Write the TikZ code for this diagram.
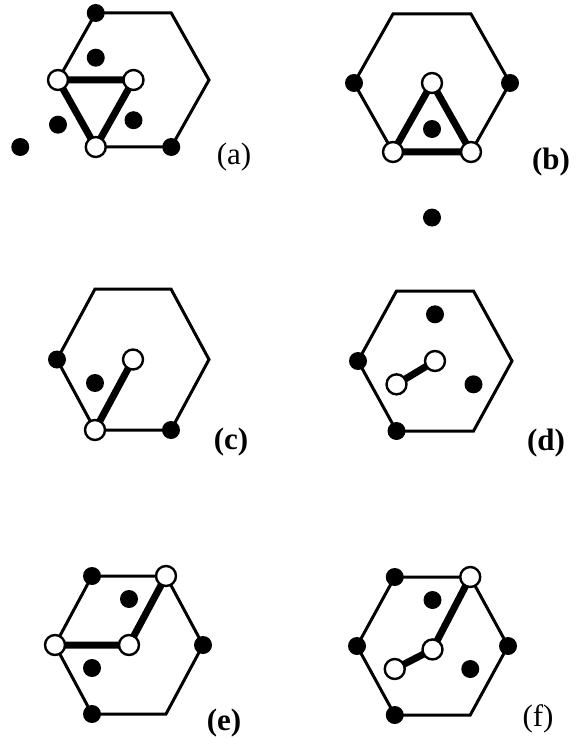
\documentclass[tikz,border=0pt]{standalone}
\usepackage{fontspec}
\setmainfont{Liberation Serif}
\pgfdeclarelayer{background}
\pgfsetlayers{background,main}
\tikzset{
  hexl/.style={line width=3pt, line join=miter},
  bond/.style={line width=7pt},
  bdot/.style={circle, fill=black, inner sep=0pt, minimum size=18pt},
  wdot/.style={circle, draw=black, line width=2.4pt, fill=white, inner sep=0pt, minimum size=20pt},
  lab/.style={font=\fontsize{31}{31}\selectfont, inner sep=0pt},
  labb/.style={lab, font=\fontsize{31}{31}\selectfont\bfseries}
}
\begin{document}
\begin{tikzpicture}[x=1pt,y=1pt]
\useasboundingbox (0,0) rectangle (577,-738);
\begin{pgfonlayer}{background}
\fill[white] (0,0) rectangle (577,-738);
\end{pgfonlayer}

% ---------- (a)
\begin{scope}[shift={(133.5,-80)}, x=75.5pt, y=67pt]
  \coordinate (a0) at (1,0);   \coordinate (a1) at (0.5,1);
  \coordinate (a2) at (-0.5,1); \coordinate (a3) at (-1,0);
  \coordinate (a4) at (-0.5,-1); \coordinate (a5) at (0.5,-1);
  \draw[hexl] (a0)--(a1)--(a2)--(a3)--(a4)--(a5)--cycle;
  \node[bdot] (aB1) at (a2) {};
  \node[bdot] (aB2) at (a5) {};
  \node[bdot] (aB3) at (-0.5,0.3333) {};
  \node[bdot] (aB4) at (0,-0.6) {};
  \node[bdot] (aB5) at (-1,-0.6667) {};
  \node[bdot] (aB6) at (-1.5,-1) {};
  \node[wdot] (aW1) at (a3) {};
  \node[wdot] (aW2) at (0,0) {};
  \node[wdot] (aW3) at (a4) {};
  \begin{pgfonlayer}{background}
    \draw[bond] (aW1.center) -- (aW2.center) -- (aW3.center) -- cycle;
  \end{pgfonlayer}
\end{scope}
\node[lab] (la) at (234,-157) {(a)};

% ---------- (b)
\begin{scope}[shift={(432,-83)}, x=78pt, y=69pt]
  \coordinate (b0) at (1,0);   \coordinate (b1) at (0.5,1);
  \coordinate (b2) at (-0.5,1); \coordinate (b3) at (-1,0);
  \coordinate (b4) at (-0.5,-1); \coordinate (b5) at (0.5,-1);
  \draw[hexl] (b0)--(b1)--(b2)--(b3)--(b4)--(b5)--cycle;
  \node[bdot] (bB1) at (b0) {};
  \node[bdot] (bB2) at (b3) {};
  \node[bdot] (bB3) at (0,-0.6667) {};
  \node[bdot] (bB4) at (0,-1.95) {};
  \node[wdot] (bW1) at (0,0) {};
  \node[wdot] (bW2) at (b4) {};
  \node[wdot] (bW3) at (b5) {};
  \begin{pgfonlayer}{background}
    \draw[bond] (bW1.center) -- (bW2.center) -- (bW3.center) -- cycle;
  \end{pgfonlayer}
\end{scope}
\node[labb] (lb) at (551,-162) {(b)};

% ---------- (c)
\begin{scope}[shift={(133,-359.5)}, x=76pt, y=70.5pt]
  \coordinate (c0) at (1,0);   \coordinate (c1) at (0.5,1);
  \coordinate (c2) at (-0.5,1); \coordinate (c3) at (-1,0);
  \coordinate (c4) at (-0.5,-1); \coordinate (c5) at (0.5,-1);
  \draw[hexl] (c0)--(c1)--(c2)--(c3)--(c4)--(c5)--cycle;
  \node[bdot] (cB1) at (c3) {};
  \node[bdot] (cB2) at (c5) {};
  \node[bdot] (cB3) at (-0.5,-0.3333) {};
  \node[wdot] (cW1) at (0,0) {};
  \node[wdot] (cW2) at (c4) {};
  \begin{pgfonlayer}{background}
    \draw[bond] (cW1.center) -- (cW2.center);
  \end{pgfonlayer}
\end{scope}
\node[labb] (lc) at (231,-442) {(c)};

% ---------- (d)
\begin{scope}[shift={(435,-361)}, x=77pt, y=70pt]
  \coordinate (d0) at (1,0);   \coordinate (d1) at (0.5,1);
  \coordinate (d2) at (-0.5,1); \coordinate (d3) at (-1,0);
  \coordinate (d4) at (-0.5,-1); \coordinate (d5) at (0.5,-1);
  \draw[hexl] (d0)--(d1)--(d2)--(d3)--(d4)--(d5)--cycle;
  \node[bdot] (dB1) at (d3) {};
  \node[bdot] (dB2) at (d4) {};
  \node[bdot] (dB3) at (0,0.6667) {};
  \node[bdot] (dB4) at (0.5,-0.3333) {};
  \node[wdot] (dW1) at (0,0) {};
  \node[wdot] (dW2) at (-0.5,-0.3333) {};
  \begin{pgfonlayer}{background}
    \draw[bond] (dW1.center) -- (dW2.center);
  \end{pgfonlayer}
\end{scope}
\node[labb] (ld) at (546,-443) {(d)};

% ---------- (e)
\begin{scope}[shift={(129,-645)}, x=74pt, y=69pt]
  \coordinate (e0) at (1,0);   \coordinate (e1) at (0.5,1);
  \coordinate (e2) at (-0.5,1); \coordinate (e3) at (-1,0);
  \coordinate (e4) at (-0.5,-1); \coordinate (e5) at (0.5,-1);
  \draw[hexl] (e0)--(e1)--(e2)--(e3)--(e4)--(e5)--cycle;
  \node[bdot] (eB1) at (e2) {};
  \node[bdot] (eB2) at (e0) {};
  \node[bdot] (eB3) at (e4) {};
  \node[bdot] (eB4) at (0,0.6667) {};
  \node[bdot] (eB5) at (-0.5,-0.3333) {};
  \node[wdot] (eW1) at (e1) {};
  \node[wdot] (eW2) at (0,0) {};
  \node[wdot] (eW3) at (e3) {};
  \begin{pgfonlayer}{background}
    \draw[bond] (eW3.center) -- (eW2.center) -- (eW1.center);
  \end{pgfonlayer}
\end{scope}
\node[labb] (le) at (224,-723) {(e)};

% ---------- (f)
\begin{scope}[shift={(432.5,-646)}, x=75.5pt, y=69pt]
  \coordinate (f0) at (1,0);   \coordinate (f1) at (0.5,1);
  \coordinate (f2) at (-0.5,1); \coordinate (f3) at (-1,0);
  \coordinate (f4) at (-0.5,-1); \coordinate (f5) at (0.5,-1);
  \draw[hexl] (f0)--(f1)--(f2)--(f3)--(f4)--(f5)--cycle;
  \node[bdot] (fB1) at (f2) {};
  \node[bdot] (fB2) at (f3) {};
  \node[bdot] (fB3) at (f0) {};
  \node[bdot] (fB4) at (f4) {};
  \node[bdot] (fB5) at (0,0.6667) {};
  \node[bdot] (fB6) at (0.5,-0.3333) {};
  \node[wdot] (fW1) at (f1) {};
  \node[wdot] (fW2) at (0,-0.05) {};
  \node[wdot] (fW3) at (-0.5,-0.3333) {};
  \begin{pgfonlayer}{background}
    \draw[bond] (fW1.center) -- (fW2.center) -- (fW3.center);
  \end{pgfonlayer}
\end{scope}
\node[lab] (lf) at (538,-719) {(f)};
\end{tikzpicture}
\end{document}
